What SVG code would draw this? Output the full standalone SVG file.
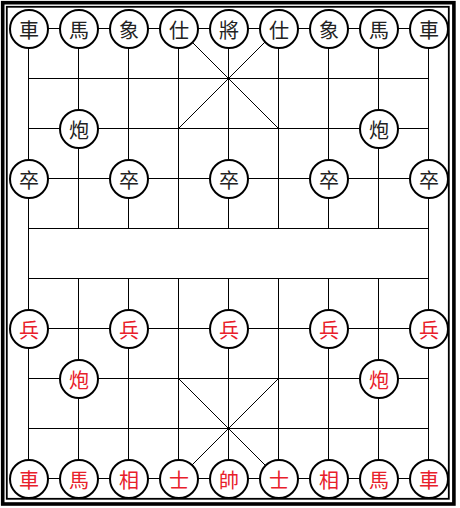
<svg xmlns="http://www.w3.org/2000/svg" width="460" height="508" viewBox="0 0 460 508">
<style>
.ln{stroke:#000;stroke-width:1;fill:none}
.pc circle{fill:#fff;stroke:#000;stroke-width:2}
.pc text{font-family:"Noto Sans CJK SC","Noto Sans CJK TC",sans-serif;font-size:20px;text-anchor:middle;dominant-baseline:central}
.b text{fill:#222}
.r text{fill:#e8202a}
</style>
<rect x="0" y="0" width="460" height="508" fill="#fff"/>
<rect x="2.7" y="2.7" width="451.2" height="501.3" fill="none" stroke="#000" stroke-width="3.6"/>
<rect x="6.8" y="6.8" width="442" height="492" fill="none" stroke="#000" stroke-width="1.8"/>
<g id="connectors" class="ln" transform="translate(-0.5,-0.5)">
<path d="M29 29H429M29 79H429M29 129H429M29 179H429M29 229H429M29 279H429M29 329H429M29 379H429M29 429H429M29 479H429"/>
<path d="M29 29V479M429 29V479"/>
<path d="M79 29V229M129 29V229M179 29V229M229 29V229M279 29V229M329 29V229M379 29V229"/>
<path d="M79 279V479M129 279V479M179 279V479M229 279V479M279 279V479M329 279V479M379 279V479"/>
<path d="M179 29L279 129M279 29L179 129M179 379L279 479M279 379L179 479"/>
</g>
<g id="b-che1" class="pc b"><circle cx="29" cy="29" r="19"/><text x="29" y="29">車</text></g>
<g id="b-ma1" class="pc b"><circle cx="79" cy="29" r="19"/><text x="79" y="29">馬</text></g>
<g id="b-xiang1" class="pc b"><circle cx="129" cy="29" r="19"/><text x="129" y="29">象</text></g>
<g id="b-shi1" class="pc b"><circle cx="179" cy="29" r="19"/><text x="179" y="29">仕</text></g>
<g id="b-jiang" class="pc b"><circle cx="229" cy="29" r="19"/><text x="229" y="29">將</text></g>
<g id="b-shi2" class="pc b"><circle cx="279" cy="29" r="19"/><text x="279" y="29">仕</text></g>
<g id="b-xiang2" class="pc b"><circle cx="329" cy="29" r="19"/><text x="329" y="29">象</text></g>
<g id="b-ma2" class="pc b"><circle cx="379" cy="29" r="19"/><text x="379" y="29">馬</text></g>
<g id="b-che2" class="pc b"><circle cx="429" cy="29" r="19"/><text x="429" y="29">車</text></g>
<g id="b-pao1" class="pc b"><circle cx="79" cy="129" r="19"/><text x="79" y="129">炮</text></g>
<g id="b-pao2" class="pc b"><circle cx="379" cy="129" r="19"/><text x="379" y="129">炮</text></g>
<g id="b-zu1" class="pc b"><circle cx="29" cy="179" r="19"/><text x="29" y="179">卒</text></g>
<g id="b-zu2" class="pc b"><circle cx="129" cy="179" r="19"/><text x="129" y="179">卒</text></g>
<g id="b-zu3" class="pc b"><circle cx="229" cy="179" r="19"/><text x="229" y="179">卒</text></g>
<g id="b-zu4" class="pc b"><circle cx="329" cy="179" r="19"/><text x="329" y="179">卒</text></g>
<g id="b-zu5" class="pc b"><circle cx="429" cy="179" r="19"/><text x="429" y="179">卒</text></g>
<g id="r-bing1" class="pc r"><circle cx="29" cy="329" r="19"/><text x="29" y="329">兵</text></g>
<g id="r-bing2" class="pc r"><circle cx="129" cy="329" r="19"/><text x="129" y="329">兵</text></g>
<g id="r-bing3" class="pc r"><circle cx="229" cy="329" r="19"/><text x="229" y="329">兵</text></g>
<g id="r-bing4" class="pc r"><circle cx="329" cy="329" r="19"/><text x="329" y="329">兵</text></g>
<g id="r-bing5" class="pc r"><circle cx="429" cy="329" r="19"/><text x="429" y="329">兵</text></g>
<g id="r-pao1" class="pc r"><circle cx="79" cy="379" r="19"/><text x="79" y="379">炮</text></g>
<g id="r-pao2" class="pc r"><circle cx="379" cy="379" r="19"/><text x="379" y="379">炮</text></g>
<g id="r-che1" class="pc r"><circle cx="29" cy="479" r="19"/><text x="29" y="479">車</text></g>
<g id="r-ma1" class="pc r"><circle cx="79" cy="479" r="19"/><text x="79" y="479">馬</text></g>
<g id="r-xiang1" class="pc r"><circle cx="129" cy="479" r="19"/><text x="129" y="479">相</text></g>
<g id="r-shi1" class="pc r"><circle cx="179" cy="479" r="19"/><text x="179" y="479">士</text></g>
<g id="r-shuai" class="pc r"><circle cx="229" cy="479" r="19"/><text x="229" y="479">帥</text></g>
<g id="r-shi2" class="pc r"><circle cx="279" cy="479" r="19"/><text x="279" y="479">士</text></g>
<g id="r-xiang2" class="pc r"><circle cx="329" cy="479" r="19"/><text x="329" y="479">相</text></g>
<g id="r-ma2" class="pc r"><circle cx="379" cy="479" r="19"/><text x="379" y="479">馬</text></g>
<g id="r-che2" class="pc r"><circle cx="429" cy="479" r="19"/><text x="429" y="479">車</text></g>
</svg>
